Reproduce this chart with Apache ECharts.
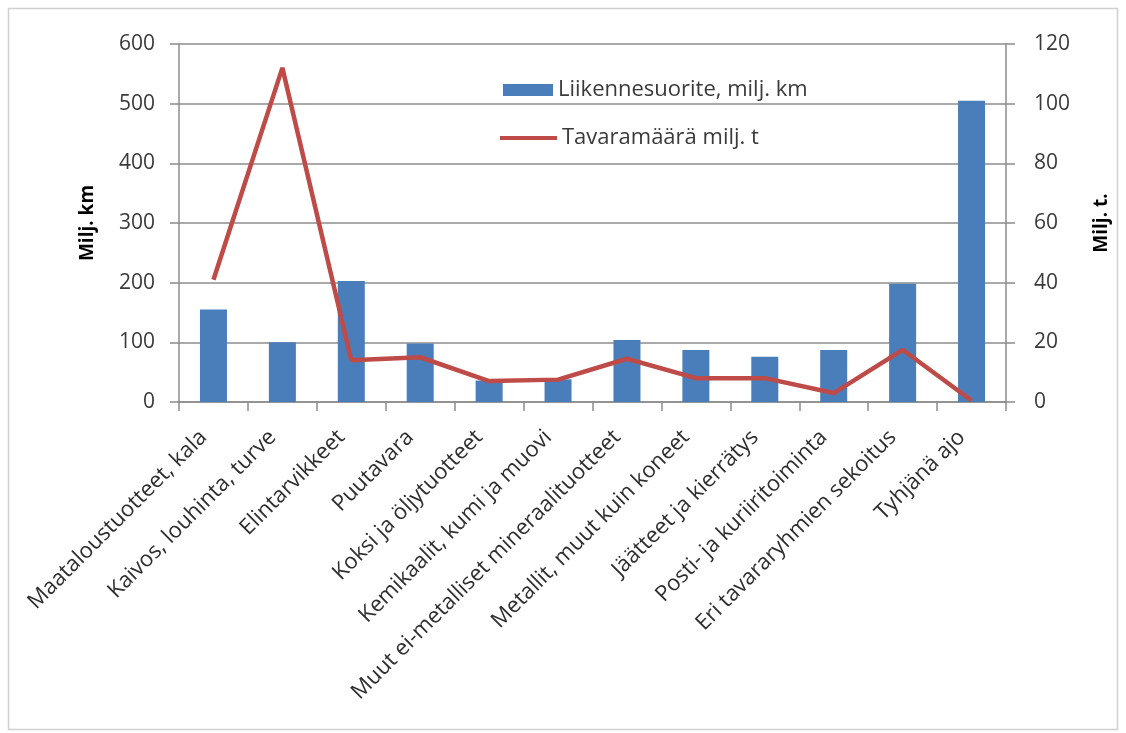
<!DOCTYPE html>
<html><head><meta charset="utf-8">
<script src="https://cdn.jsdelivr.net/npm/echarts@6/dist/echarts.min.js"></script>
<style>html,body{margin:0;padding:0;background:#fff;}#c{width:1126px;height:733px;}</style>
</head><body><div id="c"></div>
<script>
const categories = ["Maataloustuotteet, kala","Kaivos, louhinta, turve","Elintarvikkeet","Puutavara","Koksi ja öljytuotteet","Kemikaalit, kumi ja muovi","Muut ei-metalliset mineraalituotteet","Metallit, muut kuin koneet","Jäätteet ja kierrätys","Posti- ja kuriiritoiminta","Eri tavararyhmien sekoitus","Tyhjänä ajo"];
const liikennesuorite = [155, 100, 203, 98, 36, 38, 104, 87, 76, 87, 198, 505];
const tavaramaara = [41, 112, 14, 15, 7, 7.5, 14.5, 8, 8, 3, 17.5, 0.5];
const leftTicks = [0, 600, 100];
const rightTicks = [0, 120, 20];

const FONT = 'Open Sans';
const txt = '#3a3a3a';
const chart = echarts.init(document.getElementById('c'));
chart.setOption({
  animation: false,
  textStyle: {fontFamily: FONT},
  graphic: [{type:'rect', shape:{x:8.5,y:8.5,width:1109,height:721}, style:{fill:'none', stroke:'#d0d0d0', lineWidth:1.5}, silent:true}],
  grid: {left: 179, right: 120, top: 44, bottom: 331, containLabel: false},
  legend: [{
    orient: 'vertical', left: 498, top: 74, itemWidth: 50, itemHeight: 12,
    textStyle: {fontFamily: FONT, fontSize: 22, color: txt},
    data: [{name: 'Liikennesuorite, milj. km', icon: 'rect'}]
  }, {
    orient: 'vertical', left: 495, top: 122, itemWidth: 57, itemHeight: 4,
    textStyle: {fontFamily: FONT, fontSize: 22, color: txt},
    data: [{name: 'Tavaramäärä milj. t', icon: 'rect'}]
  }],
  xAxis: {
    type: 'category', data: categories,
    axisLine: {lineStyle: {color: '#8c8c8c', width: 1.5}},
    axisTick: {show: true, length: 9, lineStyle: {color: '#8c8c8c', width: 1.5}},
    axisLabel: {rotate: 45, interval: 0, fontSize: 22, color: '#2e2e2e', fontFamily: FONT, margin: 22, padding: [0, 14, 0, 0]}
  },
  yAxis: [{
    type: 'value', min: leftTicks[0], max: leftTicks[1], interval: leftTicks[2],
    name: 'Milj. km', nameLocation: 'middle', nameGap: 82, nameRotate: 90,
    nameTextStyle: {fontWeight: 'bold', fontSize: 19, color: '#000', fontFamily: FONT},
    axisLine: {show: true, lineStyle: {color: '#8c8c8c', width: 1.5}},
    axisTick: {show: true, length: 9, lineStyle: {color: '#8c8c8c', width: 1.5}},
    axisLabel: {fontSize: 21, color: txt, fontFamily: FONT, margin: 24},
    splitLine: {lineStyle: {color: '#8c8c8c', width: 1.5}}
  }, {
    type: 'value', min: rightTicks[0], max: rightTicks[1], interval: rightTicks[2],
    name: 'Milj. t.', nameLocation: 'middle', nameGap: 86, nameRotate: 90,
    nameTextStyle: {fontWeight: 'bold', fontSize: 19, color: '#000', fontFamily: FONT},
    axisLine: {show: true, lineStyle: {color: '#8c8c8c', width: 1.5}},
    axisTick: {show: true, length: 9, lineStyle: {color: '#8c8c8c', width: 1.5}},
    axisLabel: {fontSize: 21, color: txt, fontFamily: FONT, margin: 28},
    splitLine: {show: false}
  }],
  series: [{
    name: 'Liikennesuorite, milj. km', type: 'bar', data: liikennesuorite, barWidth: 27,
    itemStyle: {color: '#4a7ebb'}
  }, {
    name: 'Tavaramäärä milj. t', type: 'line', yAxisIndex: 1, data: tavaramaara,
    symbol: 'none', lineStyle: {color: '#be4b48', width: 4.5}, itemStyle: {color: '#be4b48'}
  }]
});
</script></body></html>
